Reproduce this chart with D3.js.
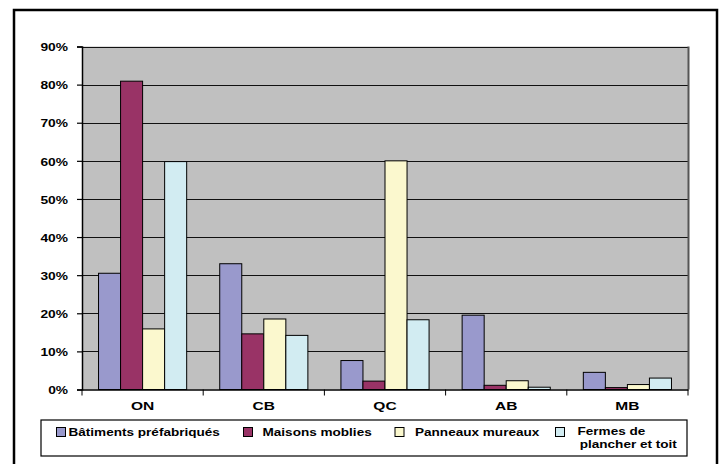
<!DOCTYPE html>
<html>
<head>
<meta charset="utf-8">
<script src="https://cdn.jsdelivr.net/npm/d3@7"></script>
<style>
  html, body { margin: 0; padding: 0; background: #fff; }
  svg { display: block; }
  text { font-family: "Liberation Sans", Arial, sans-serif; font-weight: bold; fill: #000; }
</style>
</head>
<body>
<svg id="chart" width="720" height="464"></svg>
<script>
// Provinces (categories)
const categories = ["ON", "CB", "QC", "AB", "MB"];
// Series names
const seriesNames = ["Bâtiments préfabriqués", "Maisons moblies", "Panneaux mureaux", "Fermes de plancher et toit"];
// Share of each product type by province (fractions)
const batiments = [0.305, 0.330, 0.076, 0.195, 0.045];
const maisons   = [0.809, 0.146, 0.022, 0.011, 0.005];
const panneaux  = [0.159, 0.185, 0.600, 0.023, 0.013];
const fermes    = [0.598, 0.142, 0.183, 0.006, 0.030];
const yTicks = [0, 0.1, 0.2, 0.3, 0.4, 0.5, 0.6, 0.7, 0.8, 0.9];

const seriesValues = [batiments, maisons, panneaux, fermes];
const colors = ["#9999CC", "#993366", "#FBF8CE", "#D2ECF2"];

const svg = d3.select("#chart");

// outer chart frame
svg.append("rect")
  .attr("x", 14).attr("y", 10).attr("width", 703).attr("height", 470)
  .attr("fill", "#fff").attr("stroke", "#000").attr("stroke-width", 2.5);

const plot = { left: 82, right: 688, top: 46.5, bottom: 389.5 };

const x0 = d3.scaleBand().domain(categories).range([plot.left, plot.right]).padding(0);
const x1 = d3.scaleBand().domain(d3.range(seriesNames.length))
  .range([0, x0.bandwidth()]).paddingInner(0).paddingOuter(0.75);
const y = d3.scaleLinear().domain([0, 0.9]).range([plot.bottom, plot.top]);

// widen text glyphs horizontally by the given factor
function stretch(sel, factor) {
  sel.each(function () {
    const w = this.getComputedTextLength();
    d3.select(this).attr("textLength", w * factor).attr("lengthAdjust", "spacingAndGlyphs");
  });
}

// plot background
svg.append("rect")
  .attr("x", plot.left).attr("y", plot.top)
  .attr("width", plot.right - plot.left).attr("height", plot.bottom - plot.top)
  .attr("fill", "#C0C0C0");

// horizontal gridlines
svg.append("g").selectAll("line").data(yTicks.slice(1)).join("line")
  .attr("x1", plot.left).attr("x2", plot.right)
  .attr("y1", d => Math.round(y(d)) + 0.5).attr("y2", d => Math.round(y(d)) + 0.5)
  .attr("stroke", "#111").attr("stroke-width", 1.2);

// right border of plot area
svg.append("line")
  .attr("x1", plot.right + 0.5).attr("x2", plot.right + 0.5)
  .attr("y1", plot.top).attr("y2", plot.bottom)
  .attr("stroke", "#555").attr("stroke-width", 2);

// bars
const groups = svg.append("g").selectAll("g").data(categories).join("g")
  .attr("transform", c => `translate(${x0(c)},0)`);
groups.selectAll("rect")
  .data((c, ci) => seriesValues.map((vals, si) => ({ si, v: vals[ci] })))
  .join("rect")
  .attr("x", d => x1(d.si))
  .attr("width", x1.bandwidth())
  .attr("y", d => y(d.v))
  .attr("height", d => y(0) - y(d.v))
  .attr("fill", d => colors[d.si])
  .attr("stroke", "#000").attr("stroke-width", 1);

// y axis
const yAxis = svg.append("g")
  .attr("transform", `translate(${plot.left},0)`)
  .call(d3.axisLeft(y).tickValues(yTicks).tickFormat(d3.format(".0%")).tickSize(5).tickPadding(9));
yAxis.select(".domain").attr("stroke", "#000").attr("stroke-width", 1.5);
yAxis.selectAll(".tick line").attr("stroke", "#000").attr("stroke-width", 1.2);
yAxis.selectAll("text").attr("font-size", 11).attr("font-family", null).attr("dy", "0.38em");
stretch(yAxis.selectAll("text"), 1.25);

// x axis
const xAxis = svg.append("g")
  .attr("transform", `translate(0,${plot.bottom})`)
  .call(d3.axisBottom(x0).tickSize(0).tickPadding(12));
xAxis.select(".domain").attr("stroke", "#000").attr("stroke-width", 1.5);
xAxis.selectAll("text").attr("font-size", 11.5).attr("font-family", null).attr("dy", "0.71em");
stretch(xAxis.selectAll("text"), 1.35);
// category boundary ticks
svg.append("g").selectAll("line")
  .data(categories.map(c => x0(c)).concat([plot.right]))
  .join("line")
  .attr("x1", d => d).attr("x2", d => d)
  .attr("y1", plot.bottom).attr("y2", plot.bottom + 6)
  .attr("stroke", "#000").attr("stroke-width", 1);

// legend
const legend = svg.append("g");
legend.append("rect")
  .attr("x", 41).attr("y", 420).attr("width", 646).attr("height", 36)
  .attr("fill", "#fff").attr("stroke", "#000").attr("stroke-width", 1.2);

const legendBoxX = [56, 243, 394.5, 555];
const legendTextX = [68.5, 262.5, 415, 577.5];
const legendLines = [["Bâtiments préfabriqués"], ["Maisons moblies"], ["Panneaux mureaux"], ["Fermes de", "plancher et toit"]];

seriesNames.forEach((name, i) => {
  legend.append("rect")
    .attr("x", legendBoxX[i] + 0.5).attr("y", 427.5).attr("width", 9).attr("height", 9)
    .attr("fill", colors[i]).attr("stroke", "#000").attr("stroke-width", 1);
  const lines = legendLines[i];
  const top = lines.length > 1 ? 435.4 : 436.3;
  lines.forEach((line, li) => {
    legend.append("text")
      .attr("transform", `translate(${legendTextX[i] + (li ? 2.2 : 0)},${top + li * 13}) scale(1.18,1)`)
      .attr("font-size", 11.5)
      .text(line);
  });
});
</script>
</body>
</html>
